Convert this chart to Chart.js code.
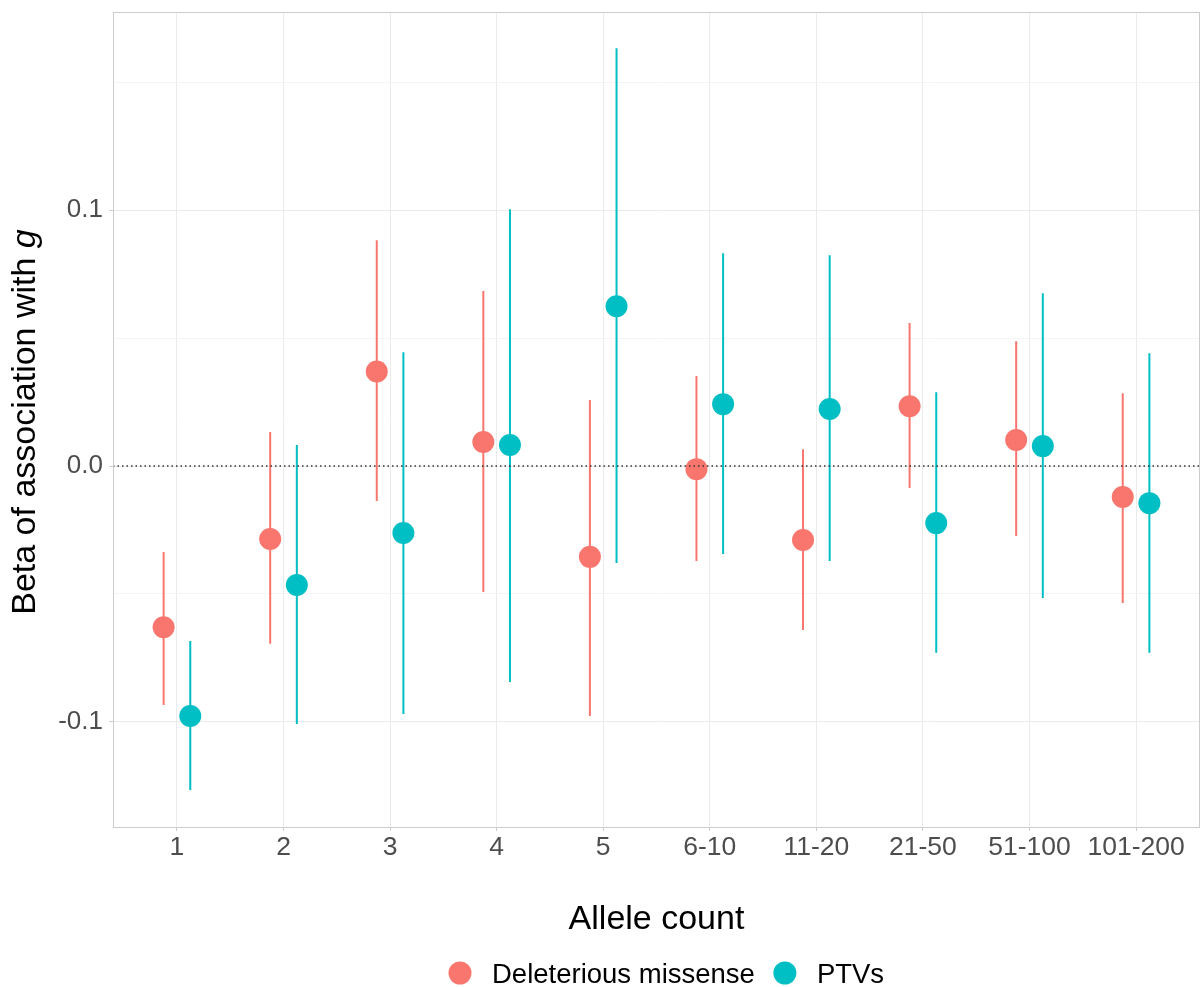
<!DOCTYPE html>
<html>
<head>
<meta charset="utf-8">
<script src="https://cdn.jsdelivr.net/npm/chart.js@4.4.1/dist/chart.umd.min.js"></script>
<style>
  html, body { margin: 0; padding: 0; background: #fff; overflow: hidden; }
  #wrap { width: 1201px; height: 987px; }
  canvas { display: block; }
</style>
</head>
<body>
<div id="wrap"><canvas id="betaChart" width="1201" height="987"></canvas></div>
<script>
// categorias do eixo X (contagem de alelos)
const categories = ['1', '2', '3', '4', '5', '6-10', '11-20', '21-50', '51-100', '101-200'];

// Deleterious missense: beta e intervalo de confiança
const missenseBeta = [-0.0630, -0.0285, 0.0370, 0.0094, -0.0355, -0.0012, -0.0289, 0.0234, 0.0102, -0.0121];
const missenseLow  = [-0.0934, -0.0695, -0.0137, -0.0492, -0.0977, -0.0371, -0.0641, -0.0086, -0.0273, -0.0535];
const missenseHigh = [-0.0336, 0.0133, 0.0883, 0.0684, 0.0258, 0.0352, 0.0066, 0.0559, 0.0488, 0.0285];

// PTVs
const ptvBeta = [-0.0977, -0.0465, -0.0262, 0.0082, 0.0625, 0.0242, 0.0223, -0.0223, 0.0078, -0.0145];
const ptvLow  = [-0.1266, -0.1008, -0.0969, -0.0844, -0.0379, -0.0344, -0.0371, -0.0730, -0.0516, -0.0730];
const ptvHigh = [-0.0684, 0.0082, 0.0445, 0.1004, 0.1633, 0.0832, 0.0824, 0.0289, 0.0676, 0.0441];

// ticks do eixo Y (major com rótulo, minor sem)
const yTickValues = [-0.1, -0.05, 0, 0.05, 0.1, 0.15];
const yTickLabels = { '-0.1': '-0.1', '0': '0.0', '0.1': '0.1' };

const RED = '#F8766D';
const TEAL = '#00BFC4';
const DODGE = 0.125;
const FONT = '"Liberation Sans", Arial, sans-serif';

function points(beta, shift) {
    return beta.map((b, i) => ({ x: i + shift, y: b }));
}

// segmentos verticais separados por null
function errorBars(low, high, shift) {
    const out = [];
    low.forEach((lo, i) => {
        out.push({ x: i + shift, y: lo });
        out.push({ x: i + shift, y: high[i] });
        out.push({ x: i + shift, y: null });
    });
    return out;
}

function isMinor(v) {
    return Math.abs(Math.round(v * 20)) % 2 === 1;
}

const decorations = {
    id: 'decorations',
    afterDraw(chart) {
        const { ctx, chartArea } = chart;
        ctx.save();
        // borda do painel
        ctx.strokeStyle = '#cccccc';
        ctx.lineWidth = 1;
        ctx.strokeRect(chartArea.left + 0.5, chartArea.top + 0.5,
            chartArea.right - chartArea.left - 1, chartArea.bottom - chartArea.top);

        // título eixo X
        ctx.fillStyle = '#000';
        ctx.font = '34px ' + FONT;
        ctx.textAlign = 'center';
        ctx.textBaseline = 'alphabetic';
        ctx.fillText('Allele count', (chartArea.left + chartArea.right) / 2, 929);

        // título eixo Y com "g" em itálico
        const plain = 'Beta of association with ';
        ctx.font = '34px ' + FONT;
        const w1 = ctx.measureText(plain).width;
        ctx.font = 'italic 34px ' + FONT;
        const w2 = ctx.measureText('g').width;
        ctx.translate(35, 422);
        ctx.rotate(-Math.PI / 2);
        ctx.textAlign = 'left';
        ctx.font = '34px ' + FONT;
        ctx.fillText(plain, -(w1 + w2) / 2, 0);
        ctx.font = 'italic 34px ' + FONT;
        ctx.fillText('g', -(w1 + w2) / 2 + w1, 0);
        ctx.restore();

        // legenda
        ctx.save();
        ctx.font = '27.5px ' + FONT;
        ctx.textBaseline = 'alphabetic';
        ctx.textAlign = 'left';
        const items = [['Deleterious missense', RED], ['PTVs', TEAL]];
        let cx = 460;
        items.forEach(([label, color]) => {
            ctx.fillStyle = color;
            ctx.beginPath();
            ctx.arc(cx, 973, 11.5, 0, Math.PI * 2);
            ctx.fill();
            ctx.fillStyle = '#000';
            ctx.fillText(label, cx + 32, 983);
            cx += 32 + ctx.measureText(label).width + 30;
        });
        ctx.restore();
    }
};

const ctx = document.getElementById('betaChart').getContext('2d');
new Chart(ctx, {
    type: 'scatter',
    data: {
        datasets: [
            {
                label: 'zero',
                data: [{ x: -0.6, y: 0 }, { x: 9.6, y: 0 }],
                showLine: true,
                borderColor: '#333',
                borderWidth: 1.5,
                borderDash: [1.5, 3],
                pointRadius: 0
            },
            {
                label: 'missense CI',
                data: errorBars(missenseLow, missenseHigh, -DODGE),
                showLine: true,
                spanGaps: false,
                borderColor: RED,
                borderWidth: 2,
                pointRadius: 0
            },
            {
                label: 'PTV CI',
                data: errorBars(ptvLow, ptvHigh, DODGE),
                showLine: true,
                spanGaps: false,
                borderColor: TEAL,
                borderWidth: 2,
                pointRadius: 0
            },
            {
                label: 'Deleterious missense',
                data: points(missenseBeta, -DODGE),
                backgroundColor: RED,
                borderWidth: 0,
                pointRadius: 11
            },
            {
                label: 'PTVs',
                data: points(ptvBeta, DODGE),
                backgroundColor: TEAL,
                borderWidth: 0,
                pointRadius: 11
            }
        ]
    },
    options: {
        responsive: false,
        animation: false,
        layout: { autoPadding: false, padding: { top: 12, right: 1, left: 0, bottom: 0 } },
        plugins: {
            legend: { display: false },
            tooltip: { enabled: false }
        },
        scales: {
            x: {
                type: 'linear',
                min: -0.6,
                max: 9.6,
                afterBuildTicks: (scale) => {
                    scale.ticks = categories.map((c, i) => ({ value: i }));
                },
                afterFit: (scale) => {
                    scale.height = 160;
                    scale.paddingLeft = 0;
                    scale.paddingRight = 0;
                },
                ticks: {
                    callback: (v) => categories[v],
                    color: '#4d4d4d',
                    font: { size: 26.5, family: FONT },
                    padding: 1,
                    maxRotation: 0,
                    autoSkip: false
                },
                grid: {
                    color: '#ebebeb',
                    lineWidth: 1,
                    tickColor: '#cccccc',
                    tickLength: 4
                },
                border: { display: false }
            },
            y: {
                min: -0.1411,
                max: 0.1775,
                afterBuildTicks: (scale) => {
                    scale.ticks = yTickValues.map(v => ({ value: v }));
                },
                afterFit: (scale) => {
                    scale.width = 113;
                    scale.paddingTop = 0;
                    scale.paddingBottom = 0;
                },
                ticks: {
                    callback: (v) => yTickLabels[String(Math.round(v * 100) / 100)] || '',
                    color: '#4d4d4d',
                    font: { size: 26, family: FONT },
                    padding: 6
                },
                grid: {
                    color: (c) => (isMinor(c.tick.value) ? '#f4f4f4' : '#ebebeb'),
                    lineWidth: 1,
                    tickColor: (c) => (isMinor(c.tick.value) ? 'rgba(0,0,0,0)' : '#cccccc'),
                    tickLength: 4
                },
                border: { display: false }
            }
        }
    },
    plugins: [decorations]
});
</script>
</body>
</html>
